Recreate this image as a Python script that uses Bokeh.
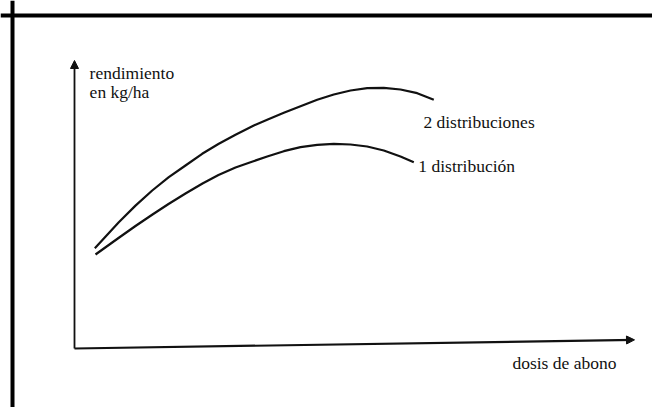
from bokeh.plotting import figure
from bokeh.models import Range1d, Span, Arrow, NormalHead, Label
from bokeh.embed import file_html
from bokeh.resources import INLINE

# Data (dose in % of axis length, yield in % of axis height)
dosis_2 = [3.63, 7.91, 10.89, 13.88, 16.84, 19.82, 22.80, 25.77, 28.75, 32.02, 34.41,
           37.38, 40.36, 43.34, 46.30, 49.29, 52.27, 55.23, 58.21, 61.20, 64.16]
rend_2 = [34.83, 43.85, 49.6, 54.86, 59.48, 63.54, 67.60, 71.08, 74.20, 77.43, 79.41,
          81.84, 84.13, 86.35, 88.19, 89.58, 90.38, 90.52, 89.93, 88.65, 86.35]

dosis_1 = [3.75, 7.86, 10.89, 13.93, 16.79, 19.82, 22.86, 25.71, 28.75, 31.43, 34.41,
           37.38, 40.36, 43.34, 46.30, 49.29, 52.27, 55.23, 58.21, 60.59]
rend_1 = [32.64, 38.37, 42.53, 46.53, 50.17, 53.82, 57.29, 60.24, 62.85, 64.69, 66.67,
          68.51, 69.90, 70.73, 71.08, 70.83, 70.14, 68.75, 66.67, 64.69]

label_2 = "2 distribuciones"
label_1 = "1 distribución"
y_title_1 = "rendimiento"
y_title_2 = "en kg/ha"
x_title = "dosis de abono"

FONT = "Liberation Serif"
INK = "#111111"

p = figure(width=652, height=407, output_backend="svg", toolbar_location=None,
           x_range=Range1d(-13.214, 103.214), y_range=Range1d(-20.486, 120.833),
           x_axis_location=None, y_axis_location=None, min_border=0)
p.outline_line_color = None
p.grid.visible = False
p.background_fill_color = "white"
p.border_fill_color = "white"

# outer frame (top and left edges visible)
p.add_layout(Span(location=115.6, dimension="width", line_color="black", line_width=4))
p.add_layout(Span(location=-11.07, dimension="height", line_color="black", line_width=4))

# axes as arrows
p.add_layout(Arrow(x_start=0, y_start=0, x_end=0, y_end=100, line_color=INK, line_width=1.8,
                   end=NormalHead(size=8, fill_color=INK, line_color=INK)))
p.add_layout(Arrow(x_start=0, y_start=0, x_end=100, y_end=3.0, line_color=INK, line_width=2.2,
                   end=NormalHead(size=8, fill_color=INK, line_color=INK)))

# curves
p.line(dosis_2, rend_2, line_color=INK, line_width=2.2, line_join="round")
p.line(dosis_1, rend_1, line_color=INK, line_width=2.2, line_join="round")

def lab(x, y, t):
    p.add_layout(Label(x=x, y=y, text=t, text_font=FONT, text_font_size="17.5px",
                       text_color=INK, text_baseline="alphabetic", text_align="left"))

lab(2.7, 95.5, y_title_1)
lab(2.7, 88.9, y_title_2)
lab(62.3, 78.5, label_2)
lab(61.4, 63.2, label_1)
lab(78.2, -4.9, x_title)

open("out.html", "w").write(file_html(p, INLINE))
